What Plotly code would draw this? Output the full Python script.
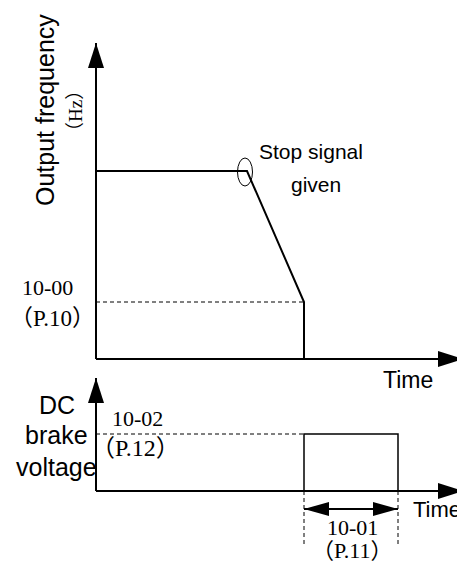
import plotly.graph_objects as go

# schematic units: 1 unit of time / level ~ 10 px on screen
# output frequency profile (time, frequency)
freq_t = [0, 15.1, 20.8, 20.8]
freq_f = [18.8, 18.8, 5.7, 0]
# DC brake start frequency 10-00 (P.10)
brake_freq = 5.7
# DC brake voltage pulse (time, voltage)
brake_t = [20.8, 20.8, 30.2, 30.2]
brake_v = [0, 5.7, 5.7, 0]
# DC brake voltage 10-02 (P.12)
brake_volt = 5.7
# axis extents (arrow tips)
time_end = 36.7
freq_top = 31.6
volt_top = 11.3
# position of the 10-01 (P.11) dimension arrow below the time axis
dim_y = -1.8
dim_bottom = -5.6

# page body has an 8px margin, so the figure is drawn 8px smaller
OFF = 8
W, H = 465 - OFF, 564 - OFF
SANS = "Liberation Sans, Arial, sans-serif"
SERIF = "Liberation Serif, Times New Roman, Noto Sans CJK SC, serif"


def head(tx, ty, dx, dy, length=2.5, half=0.8):
    bx, by = tx - dx * length, ty - dy * length
    ox, oy = -dy * half, dx * half
    return [tx, bx + ox, bx - ox, tx], [ty, by + oy, by - oy, ty]


fig = go.Figure()


def line(x, y, yaxis="y", width=2, dash=None):
    fig.add_trace(go.Scatter(x=x, y=y, yaxis=yaxis, mode="lines",
                             line=dict(color="black", width=width, dash=dash),
                             hoverinfo="skip"))


def tri(xy, yaxis="y"):
    fig.add_trace(go.Scatter(x=xy[0], y=xy[1], yaxis=yaxis, mode="lines",
                             fill="toself", fillcolor="black",
                             line=dict(color="black", width=0), hoverinfo="skip"))


# top chart: output frequency
line([0, 0], [0, freq_top], width=2)
line([0, time_end], [0, 0], width=2)
tri(head(0, freq_top, 0, 1))
tri(head(time_end, 0, 1, 0))
line(freq_t, freq_f, width=2)
line([0, freq_t[-1]], [brake_freq, brake_freq], width=1, dash="4px,3px")

# bottom chart: DC brake voltage
line([0, 0], [0, volt_top], yaxis="y2", width=2)
line([0, time_end], [0, 0], yaxis="y2", width=2)
tri(head(0, volt_top, 0, 1), yaxis="y2")
tri(head(time_end, 0, 1, 0), yaxis="y2")
line(brake_t, brake_v, yaxis="y2", width=1.5)
line([0, brake_t[0]], [brake_volt, brake_volt], yaxis="y2", width=1, dash="4px,3px")
line([brake_t[0], brake_t[0]], [0, dim_bottom], yaxis="y2", width=1, dash="4px,3px")
line([brake_t[-1], brake_t[-1]], [0, dim_bottom], yaxis="y2", width=1, dash="4px,3px")
line([brake_t[0], brake_t[-1]], [dim_y, dim_y], yaxis="y2", width=2)
tri(head(brake_t[0], dim_y, -1, 0, 2.5, 0.7), yaxis="y2")
tri(head(brake_t[-1], dim_y, 1, 0, 2.5, 0.7), yaxis="y2")

# "stop signal" marker ellipse around the knee
fig.add_shape(type="circle", xref="x", yref="y",
              x0=freq_t[1] - 0.95, x1=freq_t[1] + 0.55,
              y0=freq_f[1] - 1.5, y1=freq_f[1] + 1.3,
              line=dict(color="black", width=1))


def label(text, px, py, size, family=SANS, angle=0, xanchor="center"):
    fig.add_annotation(text=text, x=(px - OFF) / W, y=1 - (py - OFF) / H,
                       xref="paper", yref="paper",
                       showarrow=False, textangle=angle, xanchor=xanchor, yanchor="middle",
                       font=dict(family=family, size=size, color="black"))


label("Output frequency", 45, 110, 25, angle=-90)
label("（Hz）", 76, 111, 19, family=SERIF, angle=-90)
label("Stop signal", 311, 152, 21)
label("given", 316, 184, 21)
label("10-00", 47, 287, 22, family=SERIF)
label("（P.10）", 52, 318, 23, family=SERIF)
label("Time", 408, 380, 23)
label("DC", 57, 405, 25)
label("brake", 56, 435, 25)
label("voltage", 56, 467, 25)
label("10-02", 137, 418, 22, family=SERIF)
label("（P.12）", 135, 448, 24, family=SERIF)
label("10-01", 352, 527, 22, family=SERIF)
label("（P.11）", 352, 550, 22, family=SERIF)
label("Time", 411, 509, 22, xanchor="left")

split = 1 - (370 - OFF) / H
fig.update_layout(
    width=W, height=H,
    margin=dict(l=0, r=0, t=0, b=0),
    paper_bgcolor="white", plot_bgcolor="white",
    showlegend=False,
    xaxis=dict(range=[-(96 - OFF) / 10, (465 - 96) / 10], visible=False, fixedrange=True),
    yaxis=dict(domain=[split, 1], range=[-(370 - 359) / 10, (359 - OFF) / 10], visible=False),
    yaxis2=dict(domain=[0, split], range=[-(564 - 491) / 10, (491 - 370) / 10],
                visible=False, anchor="x"),
)

fig.write_html("out.html")
